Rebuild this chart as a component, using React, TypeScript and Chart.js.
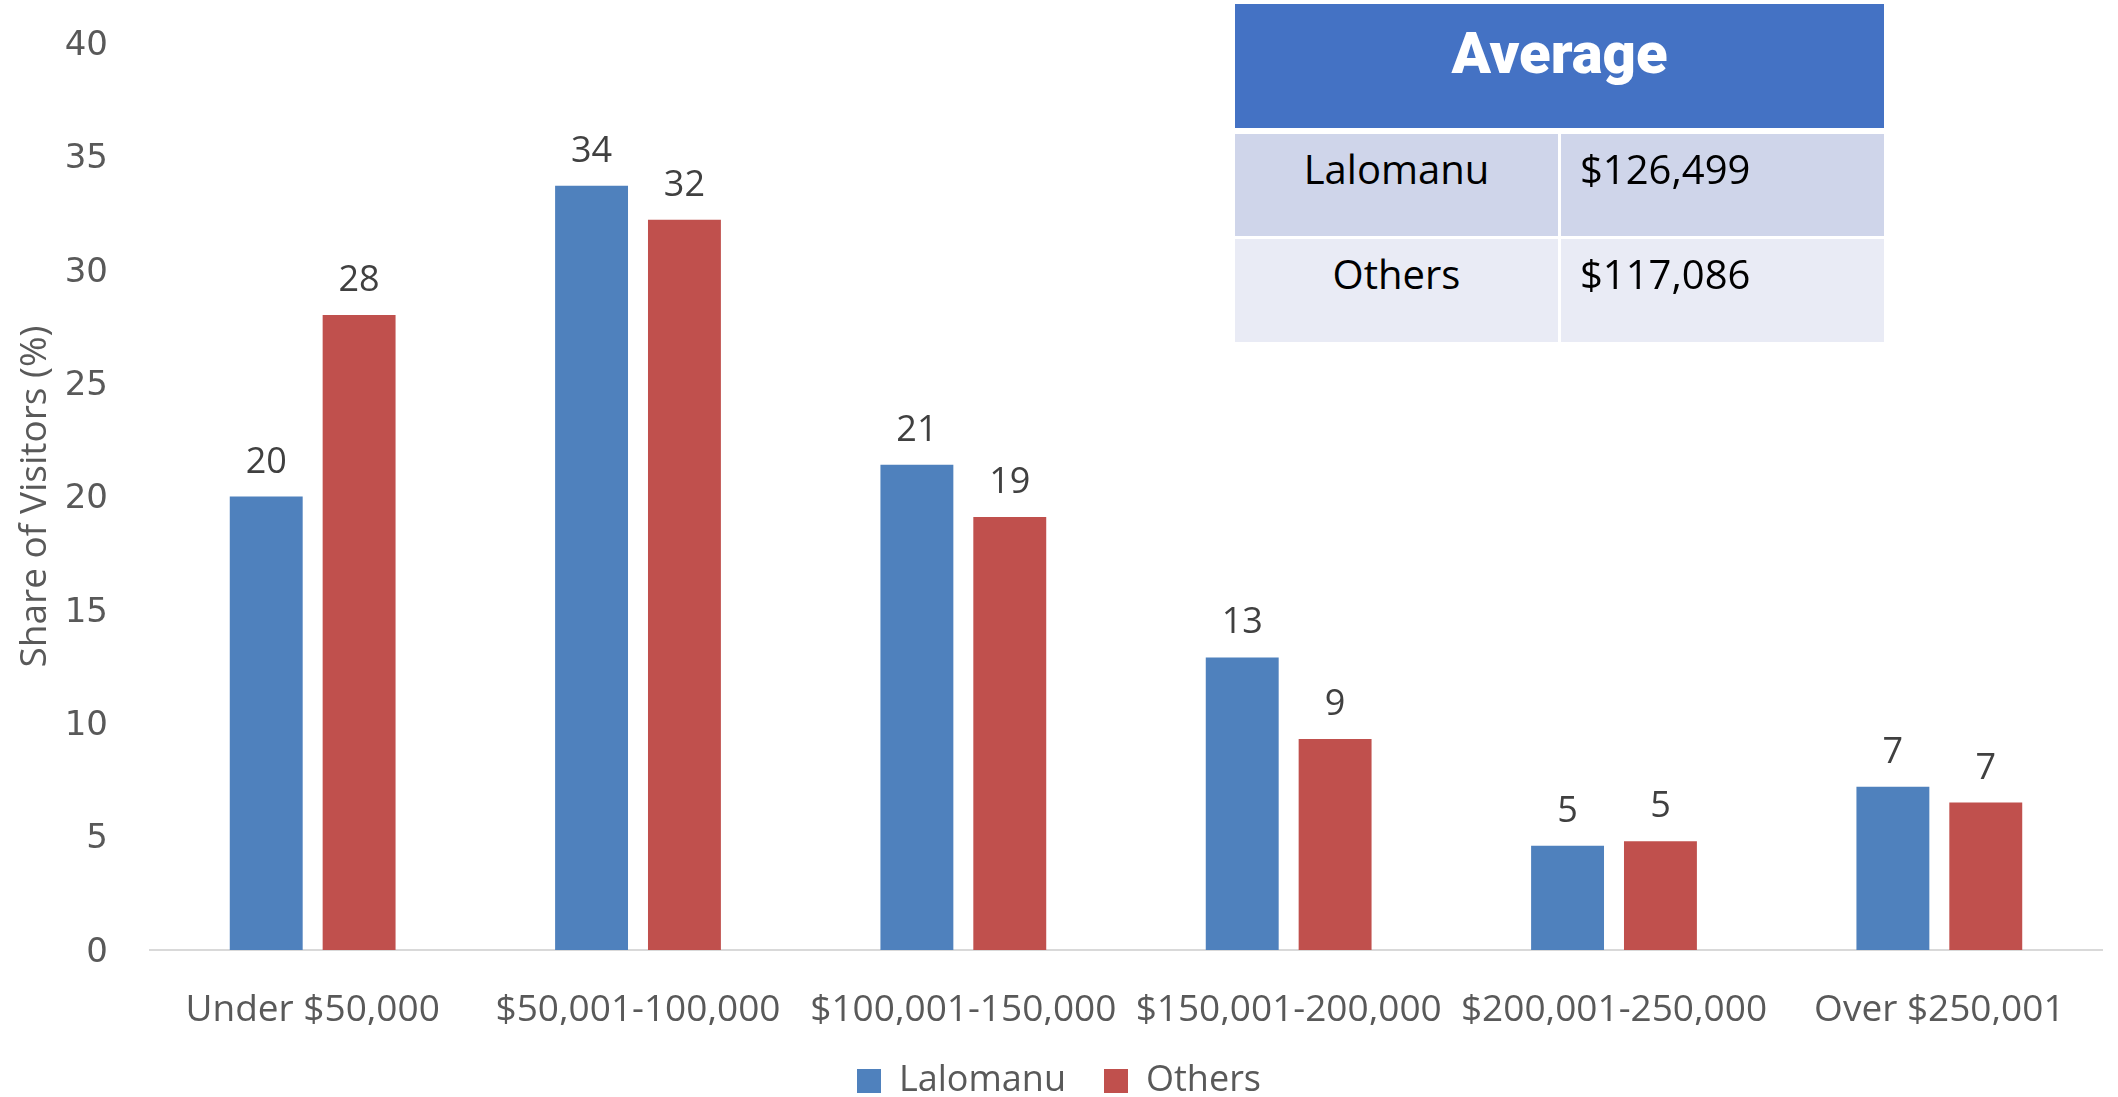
import React, { useEffect, useRef } from "react";
import { Chart, registerables } from "chart.js";

Chart.register(...registerables);

const categories = [
  "Under $50,000",
  "$50,001-100,000",
  "$100,001-150,000",
  "$150,001-200,000",
  "$200,001-250,000",
  "Over $250,001",
];
const lalomanu = [20.0, 33.7, 21.4, 12.9, 4.6, 7.2];
const others = [28.0, 32.2, 19.1, 9.3, 4.8, 6.5];
const seriesNames = ["Lalomanu", "Others"];
const yTicks = [0, 5, 10, 15, 20, 25, 30, 35, 40];
const averageTitle = "Average";
const averageRows = [
  ["Lalomanu", "$126,499"],
  ["Others", "$117,086"],
];

const BLUE = "#4F81BD";
const RED = "#C0504D";
const GRAY = "#595959";
const FONT = "'Open Sans', sans-serif";

const dataLabelPlugin = {
  id: "dataLabels",
  afterDatasetsDraw(chart: any) {
    const ctx = chart.ctx;
    ctx.save();
    ctx.font = `36px ${FONT}`;
    ctx.fillStyle = "#404040";
    ctx.textAlign = "center";
    ctx.textBaseline = "alphabetic";
    chart.data.datasets.forEach((ds: any, i: number) => {
      const meta = chart.getDatasetMeta(i);
      meta.data.forEach((el: any, j: number) => {
        ctx.fillText(String(Math.round(ds.data[j])), el.x, el.y - 24);
      });
    });
    ctx.restore();
  },
};

const legendShiftPlugin = {
  id: "legendShift",
  afterLayout(chart: any) {
    if (chart.legend) chart.legend.right += 16;
  },
};

export default function App() {
  const canvasRef = useRef<HTMLCanvasElement | null>(null);

  useEffect(() => {
    let chart: Chart | null = null;
    let cancelled = false;
    const fontsReady = Promise.all([
      document.fonts.load(`36px 'Open Sans'`),
      document.fonts.load(`34px 'DejaVu Sans'`),
    ]).catch(() => null);
    fontsReady.then(() => {
      if (cancelled || !canvasRef.current) return;
      chart = new Chart(canvasRef.current, {
        type: "bar",
        data: {
          labels: categories,
          datasets: [
            {
              label: seriesNames[0],
              data: lalomanu,
              backgroundColor: BLUE,
              categoryPercentage: 0.571,
              barPercentage: 0.785,
            },
            {
              label: seriesNames[1],
              data: others,
              backgroundColor: RED,
              categoryPercentage: 0.571,
              barPercentage: 0.785,
            },
          ],
        },
        options: {
          responsive: false,
          animation: false,
          devicePixelRatio: 1,
          layout: { padding: { top: 43, right: 16, bottom: 0, left: 0 } },
          plugins: {
            tooltip: { enabled: false },
            legend: {
              position: "bottom",
              labels: {
                font: { family: FONT, size: 36 },
                color: GRAY,
                boxWidth: 24,
                boxHeight: 24,
                padding: 38,
              },
            },
          },
          scales: {
            x: {
              grid: { display: false, drawTicks: false },
              border: { display: true, color: "#D9D9D9", width: 2 },
              ticks: {
                font: { family: FONT, size: 37 },
                color: GRAY,
                maxRotation: 0,
                minRotation: 0,
                autoSkip: false,
                padding: 38,
              },
              afterFit: (scale: any) => {
                scale.height = 75;
              },
            },
            y: {
              min: 0,
              max: 40,
              afterBuildTicks: (scale: any) => {
                scale.ticks = yTicks.map((v) => ({ value: v }));
              },
              grid: { display: false, drawTicks: false },
              border: { display: false },
              ticks: {
                font: { family: "'DejaVu Sans', sans-serif", size: 34 },
                color: GRAY,
                padding: 42,
                labelOffset: 3,
              },
              title: {
                display: true,
                text: "Share of Visitors (%)",
                font: { family: FONT, size: 37 },
                color: GRAY,
                padding: { top: 13, bottom: 0 },
              },
              afterFit: (scale: any) => {
                scale.width = 150;
                scale.paddingTop = 0;
                scale.paddingBottom = 0;
              },
            },
          },
        },
        plugins: [dataLabelPlugin, legendShiftPlugin],
      } as any);
    });
    return () => {
      cancelled = true;
      if (chart) chart.destroy();
    };
  }, []);

  const cellText: React.CSSProperties = {
    position: "absolute",
    top: 15,
    fontFamily: FONT,
    fontSize: 40,
    lineHeight: "40px",
    color: "#000",
    whiteSpace: "nowrap",
  };

  const tableLeft = 1235;
  const cellW = 323;
  const rightLeft = 1561;
  const tableW = 649;
  const rowTops = [134, 239];
  const rowHeights = [102, 103];
  const rowColors = ["#CFD5EA", "#E9EBF5"];

  return (
    <div
      style={{
        position: "fixed",
        left: 0,
        top: 0,
        width: 2118,
        height: 1097,
        overflow: "hidden",
        background: "#fff",
      }}
    >
      <canvas
        ref={canvasRef}
        width={2118}
        height={1109}
        style={{ position: "absolute", left: 0, top: 0, width: 2118, height: 1109 }}
      />
      <div
        style={{
          position: "absolute",
          left: tableLeft,
          top: 4,
          width: tableW,
          height: 124,
          background: "#4472C4",
        }}
      >
        <span
          style={{
            position: "absolute",
            left: 0,
            width: tableW,
            top: 20,
            textAlign: "center",
            fontFamily: "Roboto, sans-serif",
            fontWeight: 900,
            fontSize: 58,
            lineHeight: "58px",
            color: "#fff",
            whiteSpace: "nowrap",
          }}
        >
          {averageTitle}
        </span>
      </div>
      {averageRows.map((row, i) => (
        <React.Fragment key={i}>
          <div
            style={{
              position: "absolute",
              left: tableLeft,
              top: rowTops[i],
              width: cellW,
              height: rowHeights[i],
              background: rowColors[i],
            }}
          >
            <span
              style={{
                ...cellText,
                left: 0,
                width: cellW,
                textAlign: "center",
              }}
            >
              {row[0]}
            </span>
          </div>
          <div
            style={{
              position: "absolute",
              left: rightLeft,
              top: rowTops[i],
              width: cellW,
              height: rowHeights[i],
              background: rowColors[i],
            }}
          >
            <span style={{ ...cellText, left: 19 }}>{row[1]}</span>
          </div>
        </React.Fragment>
      ))}
    </div>
  );
}
